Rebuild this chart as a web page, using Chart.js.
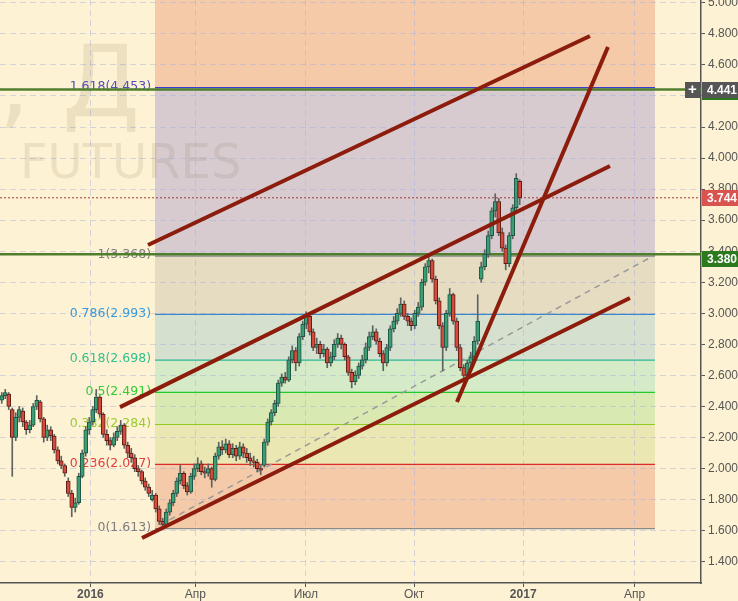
<!DOCTYPE html>
<html>
<head>
<meta charset="utf-8">
<script src="https://cdn.jsdelivr.net/npm/chart.js@4.4.1/dist/chart.umd.min.js"></script>
<style>
  html, body { margin: 0; padding: 0; background: #fdf2d3; }
  canvas { display: block; }
</style>
</head>
<body>
<canvas id="myChart" width="738" height="601"></canvas>
<script>
// daily candles, [open, high, low, close], one slot each
const candles = [
  [2.44, 2.49, 2.42, 2.47], [2.47, 2.51, 2.45, 2.49], [2.48, 2.49, 2.38, 2.40], [2.38, 2.39, 1.95, 2.20],
  [2.20, 2.36, 2.18, 2.33], [2.33, 2.40, 2.30, 2.38], [2.37, 2.39, 2.27, 2.30], [2.30, 2.31, 2.22, 2.25],
  [2.25, 2.31, 2.23, 2.28], [2.28, 2.42, 2.27, 2.40], [2.40, 2.47, 2.38, 2.44], [2.43, 2.44, 2.30, 2.32],
  [2.32, 2.33, 2.17, 2.20], [2.20, 2.28, 2.18, 2.25], [2.25, 2.27, 2.18, 2.21], [2.21, 2.22, 2.10, 2.12],
  [2.12, 2.14, 2.03, 2.05], [2.05, 2.08, 2.00, 2.02], [2.02, 2.03, 1.95, 1.97], [1.92, 1.94, 1.82, 1.84],
  [1.84, 1.86, 1.69, 1.75], [1.75, 1.81, 1.72, 1.78], [1.78, 1.97, 1.77, 1.95], [1.95, 2.12, 1.94, 2.10],
  [2.10, 2.27, 2.08, 2.25], [2.25, 2.33, 2.22, 2.30], [2.30, 2.40, 2.28, 2.38], [2.38, 2.51, 2.36, 2.46],
  [2.46, 2.47, 2.33, 2.35], [2.35, 2.36, 2.20, 2.22], [2.22, 2.25, 2.15, 2.18], [2.18, 2.20, 2.12, 2.15],
  [2.15, 2.23, 2.14, 2.20], [2.20, 2.27, 2.18, 2.24], [2.24, 2.31, 2.22, 2.28], [2.28, 2.29, 2.13, 2.15],
  [2.15, 2.17, 2.07, 2.10], [2.10, 2.13, 2.04, 2.07], [2.07, 2.09, 1.98, 2.00], [2.00, 2.02, 1.95, 1.98],
  [1.98, 1.99, 1.90, 1.92], [1.92, 1.94, 1.86, 1.88], [1.88, 1.90, 1.82, 1.84], [1.80, 1.86, 1.79, 1.83],
  [1.83, 1.84, 1.72, 1.74], [1.74, 1.76, 1.64, 1.66], [1.66, 1.68, 1.61, 1.64], [1.64, 1.74, 1.63, 1.72],
  [1.72, 1.80, 1.70, 1.78], [1.78, 1.86, 1.76, 1.84], [1.84, 1.94, 1.82, 1.92], [1.92, 2.02, 1.90, 1.97],
  [1.97, 1.98, 1.87, 1.89], [1.89, 1.91, 1.83, 1.85], [1.85, 1.97, 1.84, 1.95], [1.95, 2.03, 1.93, 2.00],
  [2.00, 2.07, 1.98, 2.03], [2.03, 2.05, 1.96, 1.98], [1.98, 2.01, 1.94, 1.97], [1.97, 2.03, 1.95, 2.00],
  [2.00, 2.01, 1.88, 1.93], [1.93, 2.10, 1.92, 2.08], [2.08, 2.17, 2.06, 2.14], [2.14, 2.18, 2.09, 2.12],
  [2.12, 2.19, 2.10, 2.16], [2.16, 2.18, 2.07, 2.09], [2.09, 2.16, 2.07, 2.13], [2.13, 2.15, 2.05, 2.08],
  [2.08, 2.17, 2.06, 2.14], [2.14, 2.16, 2.07, 2.10], [2.10, 2.13, 2.04, 2.07], [2.07, 2.10, 2.02, 2.05],
  [2.05, 2.08, 2.01, 2.04], [2.04, 2.06, 1.98, 2.00], [2.00, 2.02, 1.96, 1.99], [2.02, 2.19, 2.01, 2.17],
  [2.17, 2.32, 2.15, 2.30], [2.30, 2.38, 2.28, 2.36], [2.36, 2.44, 2.34, 2.42], [2.42, 2.57, 2.40, 2.55],
  [2.55, 2.61, 2.53, 2.59], [2.59, 2.62, 2.55, 2.57], [2.57, 2.72, 2.56, 2.70], [2.70, 2.79, 2.68, 2.76],
  [2.76, 2.78, 2.63, 2.68], [2.68, 2.87, 2.66, 2.85], [2.85, 2.95, 2.83, 2.93], [2.93, 3.01, 2.90, 2.98],
  [2.98, 2.99, 2.86, 2.88], [2.88, 2.90, 2.76, 2.78], [2.78, 2.84, 2.74, 2.80], [2.80, 2.82, 2.71, 2.74],
  [2.74, 2.80, 2.72, 2.77], [2.77, 2.78, 2.65, 2.68], [2.68, 2.75, 2.66, 2.72], [2.72, 2.83, 2.70, 2.80],
  [2.80, 2.87, 2.78, 2.84], [2.84, 2.86, 2.77, 2.80], [2.80, 2.81, 2.70, 2.72], [2.72, 2.73, 2.60, 2.62],
  [2.62, 2.64, 2.52, 2.56], [2.56, 2.63, 2.54, 2.60], [2.60, 2.68, 2.58, 2.66], [2.66, 2.73, 2.64, 2.70],
  [2.70, 2.81, 2.68, 2.78], [2.78, 2.88, 2.76, 2.85], [2.85, 2.92, 2.83, 2.88], [2.88, 2.90, 2.80, 2.82],
  [2.82, 2.84, 2.72, 2.74], [2.74, 2.76, 2.63, 2.68], [2.68, 2.80, 2.66, 2.78], [2.78, 2.92, 2.76, 2.90],
  [2.90, 2.98, 2.88, 2.95], [2.95, 3.03, 2.93, 3.00], [3.00, 3.10, 2.98, 3.06], [3.06, 3.08, 2.96, 2.98],
  [2.98, 3.00, 2.92, 2.95], [2.95, 2.97, 2.89, 2.92], [2.92, 3.02, 2.90, 3.00], [3.00, 3.07, 2.98, 3.04],
  [3.04, 3.22, 3.02, 3.20], [3.20, 3.32, 3.18, 3.30], [3.30, 3.37, 3.26, 3.34], [3.34, 3.35, 3.20, 3.22],
  [3.22, 3.24, 3.06, 3.08], [3.08, 3.10, 2.90, 2.92], [2.92, 2.94, 2.63, 2.78], [2.78, 3.02, 2.76, 3.00],
  [3.00, 3.16, 2.98, 3.12], [3.12, 3.13, 2.93, 2.95], [2.95, 2.97, 2.76, 2.78], [2.78, 2.80, 2.63, 2.65],
  [2.65, 2.67, 2.57, 2.60], [2.60, 2.70, 2.58, 2.68], [2.68, 2.75, 2.64, 2.72], [2.72, 2.85, 2.70, 2.82],
  [2.82, 3.12, 2.80, 2.95], [3.22, 3.33, 3.20, 3.30], [3.30, 3.41, 3.28, 3.38], [3.38, 3.53, 3.36, 3.50],
  [3.50, 3.68, 3.48, 3.66], [3.66, 3.77, 3.62, 3.72], [3.72, 3.74, 3.50, 3.52], [3.52, 3.55, 3.40, 3.42],
  [3.42, 3.44, 3.28, 3.32], [3.32, 3.52, 3.30, 3.50], [3.50, 3.70, 3.48, 3.68], [3.68, 3.90, 3.66, 3.87],
  [3.85, 3.86, 3.70, 3.744]
];

// axis ticks (x in candle slots)
const xTickPos = [25.33, 55.3, 86.9, 117.8, 149.0, 180.8];
const xTickLabels = ["2016", "Апр", "Июл", "Окт", "2017", "Апр"];
const yTicks = [1.4, 1.6, 1.8, 2.0, 2.2, 2.4, 2.6, 2.8, 3.0, 3.2, 3.4, 3.6, 3.8, 4.0, 4.2, 4.4, 4.6, 4.8, 5.0];

// fibonacci retracement
const fibRatios = ["0", "0.236", "0.382", "0.5", "0.618", "0.786", "1", "1.618"];
const fibPrices = [1.613, 2.027, 2.284, 2.491, 2.698, 2.993, 3.368, 4.453];
const fibStart = 43.79;
const fibEnd = 186.64;

// trend lines [x1, price1, x2, price2]
const trendLines = [
  [41.79, 3.440, 168.07, 4.786],
  [33.79, 2.396, 173.79, 3.949],
  [40.07, 1.553, 179.5, 3.099],
  [130.07, 2.429, 173.21, 4.715]
];
const dashedLine = [45.21, 1.636, 186.64, 3.376];

// price markers on the right axis
const markerPrices = [4.441, 3.744, 3.380];
const markerLabels = ["4.441", "3.744", "3.380"];

const pageColor = "#fdf2d3";
const fibLineColors = ["#8a8a8a", "#d92b2b", "#8fcc1f", "#1fcc2b", "#2bb896", "#3d85c6", "#8a8a8a", "#3b3bd0"];
const fibTextColors = ["#7d7d7d", "#e04040", "#99cc33", "#33cc33", "#33c08f", "#3a9ad9", "#7d7d7d", "#5050b8"];
const bandColors = ["#f4caa9", "#ebe7b2", "#d9e9b2", "#d5eac7", "#d6e0cf", "#e6dcc1", "#d7cbd0", "#f4caa9"];
const markerColors = ["#555555", "#d9534f", "#2d7a1e"];

const xMin = -0.5, xMax = 199.8;
const font = "'Liberation Sans', Arial, sans-serif";
Chart.defaults.font.family = font;

const fibPlugin = {
  id: "fibZones",
  beforeDraw(chart) {
    const { ctx, chartArea } = chart;
    const x = chart.scales.x, y = chart.scales.y;
    ctx.save();
    ctx.fillStyle = pageColor;
    ctx.fillRect(0, 0, chart.width, chart.height);
    const left = x.getPixelForValue(fibStart);
    const right = x.getPixelForValue(fibEnd);
    fibPrices.forEach((p, i) => {
      const top = i + 1 < fibPrices.length ? y.getPixelForValue(fibPrices[i + 1]) : chartArea.top;
      const bottom = y.getPixelForValue(p);
      ctx.fillStyle = bandColors[i];
      ctx.fillRect(left, top, right - left, bottom - top);
    });
    ctx.restore();
  },
  beforeDatasetsDraw(chart) {
    const { ctx } = chart;
    const x = chart.scales.x, y = chart.scales.y;
    ctx.save();
    // watermark
    ctx.fillStyle = "rgba(120,108,80,0.13)";
    ctx.textBaseline = "alphabetic";
    ctx.font = "48px 'DejaVu Sans'";
    ctx.textAlign = "left";
    ctx.fillText("FUTURES", 20, 178);
    ctx.font = "100px 'DejaVu Sans'";
    ctx.textAlign = "right";
    ctx.fillText(", Д", 140, 116);
    // fib labels
    ctx.font = "12.5px 'DejaVu Sans'";
    ctx.textAlign = "right";
    ctx.textBaseline = "middle";
    const lx = x.getPixelForValue(fibStart) - 4;
    fibPrices.forEach((p, i) => {
      ctx.fillStyle = fibTextColors[i];
      ctx.fillText(fibRatios[i] + "(" + p.toFixed(3) + ")", lx, y.getPixelForValue(p) - 1);
    });
    ctx.restore();
  },
  afterDraw(chart) {
    const { ctx, chartArea } = chart;
    const y = chart.scales.y;
    ctx.save();
    ctx.font = "bold 12px " + font;
    ctx.textBaseline = "middle";
    markerPrices.forEach((p, i) => {
      const py = Math.round(y.getPixelForValue(p)) + (i === 2 ? 5 : 0);
      ctx.fillStyle = markerColors[i];
      ctx.fillRect(chartArea.right + 1, py - 8, chart.width - chartArea.right, 16);
      ctx.fillStyle = "#ffffff";
      ctx.textAlign = "left";
      ctx.fillText(markerLabels[i], chartArea.right + 6, py + 1);
      if (i === 0) {
        ctx.fillStyle = markerColors[i];
        ctx.fillRect(chartArea.right - 16, py - 8, 15, 16);
        ctx.fillStyle = "#2d7a1e";
        ctx.fillRect(chartArea.right + 1, py + 8, chart.width - chartArea.right, 2);
        ctx.fillStyle = "#ffffff";
        ctx.textAlign = "center";
        ctx.font = "bold 15px " + font;
        ctx.fillText("+", chartArea.right - 8.5, py);
        ctx.font = "bold 12px " + font;
      }
    });
    ctx.restore();
  }
};

function segment(pts) {
  return [{ x: pts[0], y: pts[1] }, { x: pts[2], y: pts[3] }];
}

const up = candles.map((c) => c[3] >= c[0]);
const datasets = [];

trendLines.forEach((t) => {
  datasets.push({
    type: "line", data: segment(t), borderColor: "#8c1c0c", borderWidth: 4,
    pointRadius: 0, fill: false, order: 0
  });
});

datasets.push({
  type: "bar",
  data: candles.map((c, i) => ({ x: i, y: c[0] === c[3] ? [c[0] - 0.004, c[3] + 0.004] : [c[0], c[3]] })),
  backgroundColor: up.map((u) => (u ? "#3c9c72" : "#d24b3c")),
  borderColor: up.map((u) => (u ? "#1f5446" : "#5e1c14")),
  borderWidth: 1, borderSkipped: false, barThickness: 4, grouped: false, order: 1
});
datasets.push({
  type: "bar",
  data: candles.map((c, i) => ({ x: i, y: [c[2], c[1]] })),
  backgroundColor: "#5f6360", barThickness: 1, grouped: false, order: 2
});

datasets.push({
  type: "line", data: segment([xMin, markerPrices[0], xMax, markerPrices[0]]),
  borderColor: "#4f7f2e", borderWidth: 2.5, pointRadius: 0, order: 3
});
datasets.push({
  type: "line", data: segment([xMin, markerPrices[2], xMax, markerPrices[2]]),
  borderColor: "#4f7f2e", borderWidth: 2.5, pointRadius: 0, order: 3
});
datasets.push({
  type: "line", data: segment([xMin, markerPrices[1], xMax, markerPrices[1]]),
  borderColor: "#a83a3a", borderWidth: 1, borderDash: [2, 2], pointRadius: 0, order: 3
});
datasets.push({
  type: "line", data: segment(dashedLine),
  borderColor: "#9a9a9a", borderWidth: 1.5, borderDash: [6, 5], pointRadius: 0, order: 4
});

fibPrices.forEach((p, i) => {
  datasets.push({
    type: "line", data: segment([fibStart, p, fibEnd, p]),
    borderColor: fibLineColors[i], borderWidth: 1.2, pointRadius: 0, order: 5
  });
});

const gridColor = "rgba(165,172,222,0.45)";

new Chart(document.getElementById("myChart"), {
  type: "bar",
  data: { datasets: datasets },
  plugins: [fibPlugin],
  options: {
    responsive: false,
    devicePixelRatio: 1,
    animation: false,
    layout: { padding: 0 },
    plugins: { legend: { display: false }, tooltip: { enabled: false } },
    scales: {
      x: {
        type: "linear",
        min: xMin,
        max: xMax,
        offset: false,
        afterBuildTicks: (scale) => { scale.ticks = xTickPos.map((v) => ({ value: v })); },
        afterFit: (scale) => { scale.height = 18; scale.paddingLeft = 0; scale.paddingRight = 0; },
        grid: { offset: false, color: gridColor, lineWidth: 1, tickLength: 4, tickColor: "#555", tickBorderDash: [], tickWidth: 1 },
        border: { display: true, color: "#555", width: 1.5, dash: [6, 4] },
        ticks: {
          autoSkip: false, maxRotation: 0, padding: 0, color: "#555",
          callback: (v) => xTickLabels[xTickPos.indexOf(v)],
          font: (c) => ({ size: 12, weight: c.tick && /^\d{4}$/.test(c.tick.label) ? "bold" : "normal" })
        }
      },
      y: {
        type: "linear",
        position: "right",
        min: 1.263,
        max: 5.018,
        afterBuildTicks: (scale) => { scale.ticks = yTicks.map((v) => ({ value: v })); },
        afterFit: (scale) => { scale.width = 37; scale.paddingTop = 0; scale.paddingBottom = 0; },
        grid: { color: gridColor, lineWidth: 1, tickLength: 4, tickColor: "#555", tickBorderDash: [], tickWidth: 1 },
        border: { display: true, color: "#555", width: 1.5, dash: [6, 4] },
        ticks: { padding: 3, color: "#555", font: { size: 12 }, callback: (v) => Number(v).toFixed(3) }
      }
    }
  }
});
</script>
</body>
</html>
